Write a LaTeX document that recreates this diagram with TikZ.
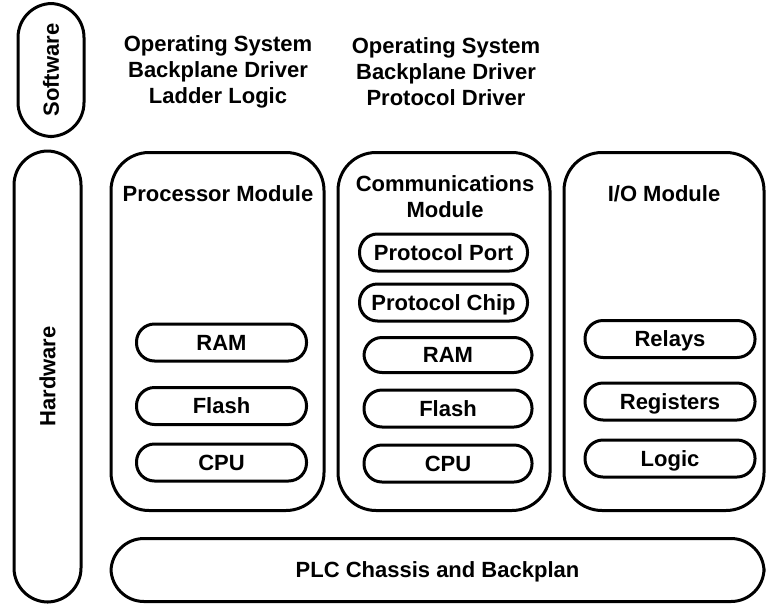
\documentclass[tikz,border=0pt]{standalone}
\usepackage{fontspec}
\setmainfont{Liberation Sans}
\begin{document}
\begin{tikzpicture}[x=1pt,y=-1pt,
  font=\fontsize{22}{26}\selectfont\bfseries,
  every node/.style={inner sep=0pt,outer sep=0pt},
  capbox/.style={text height=15.75pt,text depth=0pt},
  pill/.style={draw,line width=3pt,rectangle,rounded corners=#1,capbox},
  part/.style={draw,line width=3pt,rectangle,rounded corners=18pt,capbox,
    minimum height=37pt,minimum width=170pt},
  lbl/.style={align=center}]
\useasboundingbox (0,0) rectangle (767,605);

% side pills
\node[pill=34pt,minimum width=66pt,minimum height=133pt] (sw) at (51,70) {};
\node[rotate=90,capbox] (swl) at (sw.center) {Software};
\node[pill=34pt,minimum width=67pt,minimum height=451pt] (hw) at (47.5,376.5) {};
\node[rotate=90,capbox] (hwl) at (hw.center) {Hardware};

% software stacks
\node[lbl] (sw1) at (218,72) {Operating System\\Backplane Driver\\Ladder Logic};
\node[lbl] (sw2) at (446,72) {Operating System\\Backplane Driver\\Protocol Driver};

% modules
\node[pill=38pt,minimum width=213pt,minimum height=358pt] (proc) at (217.5,331.5) {};
\node[pill=38pt,minimum width=212pt,minimum height=358pt] (comm) at (444,331.5) {};
\node[pill=38pt,minimum width=200pt,minimum height=358pt] (io) at (664,331.5) {};
\node[capbox] (procl) at (218,194) {Processor Module};
\node[lbl] (comml) at (445,196.5) {Communications\\Module};
\node[capbox] (iol) at (664,194) {I/O Module};

% processor parts
\node[part] (pram) at (221.5,342.5) {RAM};
\node[part] (pflash) at (221.5,406) {Flash};
\node[part] (pcpu) at (221.5,462.5) {CPU};

% communications parts
\node[part,minimum width=168pt] (cport) at (443.5,252.5) {Protocol Port};
\node[part,minimum width=168pt] (cchip) at (443.5,302.5) {Protocol Chip};
\node[part,minimum width=168pt,minimum height=35pt] (cram) at (448,355) {RAM};
\node[part,minimum width=168pt] (cflash) at (448,408.5) {Flash};
\node[part,minimum width=168pt] (ccpu) at (448,463.5) {CPU};

% I/O parts
\node[part] (relays) at (670,339) {Relays};
\node[part] (regs) at (670,401.5) {Registers};
\node[part] (logic) at (670,458.5) {Logic};

% chassis
\node[pill=33pt,minimum width=653pt,minimum height=63pt] (plc) at (437.5,570) {PLC Chassis and Backplan};
\end{tikzpicture}
\end{document}
